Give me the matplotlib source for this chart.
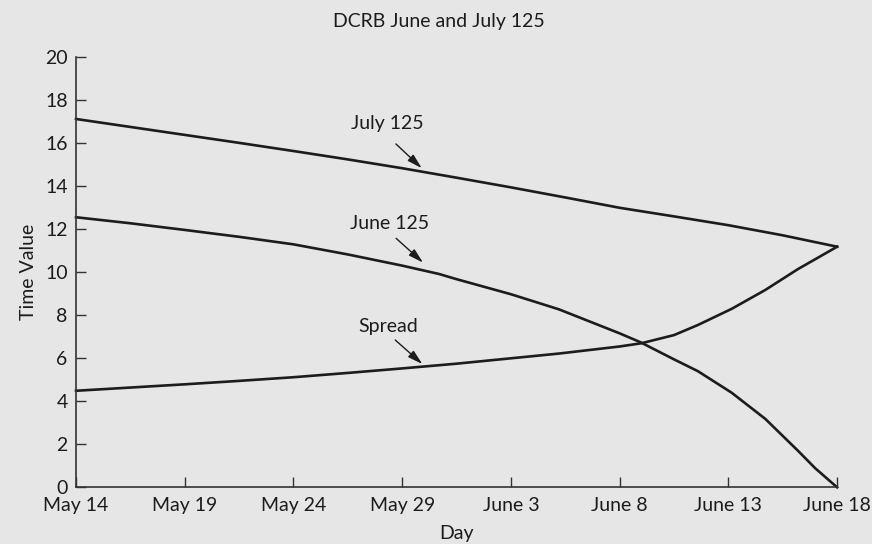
import matplotlib
matplotlib.use("Agg")
import matplotlib.pyplot as plt

# values (day 0 = May 14)
july_days = [0, 2.5, 5, 7.5, 10, 12.5, 15, 17.5, 20, 22.5, 25, 27.5, 30, 32.5, 35]
july_125 = [17.13, 16.76, 16.39, 16.02, 15.64, 15.25, 14.84, 14.40, 13.95, 13.48,
            13.00, 12.60, 12.19, 11.72, 11.19]

june_days = [0, 2.5, 5, 7.5, 10, 12.5, 15, 16.7, 17.5, 20, 22.2, 25, 25.95, 27.5,
             28.6, 30.15, 31.7, 33.2, 34.0, 35]
june_125 = [12.56, 12.28, 11.97, 11.65, 11.30, 10.83, 10.31, 9.92, 9.68, 8.98, 8.28,
            7.16, 6.75, 5.95, 5.40, 4.40, 3.18, 1.70, 0.88, 0.0]

spread_days = [0, 2.5, 5, 7.5, 10, 12.5, 15, 17.5, 20, 22.2, 25, 26, 27.5, 28.6,
               30.15, 31.7, 33.2, 35]
spread = [4.49, 4.64, 4.79, 4.95, 5.12, 5.32, 5.53, 5.75, 6.00, 6.22, 6.55, 6.70,
          7.08, 7.55, 8.30, 9.18, 10.15, 11.19]

tick_days = [0, 5, 10, 15, 20, 25, 30, 35]
tick_labels = ["May 14", "May 19", "May 24", "May 29", "June 3", "June 8", "June 13", "June 18"]

# label text pos, arrow start, arrow end (data coords)
notes = [
    ("July 125", (14.3, 16.94), (14.71, 15.97), (15.9, 14.84)),
    ("June 125", (14.4, 12.25), (14.72, 11.58), (15.96, 10.45)),
    ("Spread", (14.37, 7.47), (14.68, 6.85), (15.93, 5.73)),
]

bg = "#e6e6e6"
ink = "#1c1c1c"
fs = 14
plt.rcParams["font.family"] = ["Lato", "DejaVu Sans"]

fig = plt.figure(figsize=(8.72, 5.44), dpi=100, facecolor=bg)
ax = fig.add_axes([0.0872, 0.1042, 0.8728, 0.7905], facecolor=bg)

for d, v in [(july_days, july_125), (june_days, june_125), (spread_days, spread)]:
    ax.plot(d, v, color=ink, lw=1.9, clip_on=False, solid_joinstyle="round")

for text, tpos, start, end in notes:
    ax.text(tpos[0], tpos[1], text, ha="center", va="center", fontsize=fs, color=ink)
    ax.annotate("", xy=end, xytext=start,
                arrowprops=dict(arrowstyle="-|>,head_length=0.9,head_width=0.25",
                                color=ink, lw=1.0, shrinkA=0, shrinkB=0))

ax.set_xlim(0, 35)
ax.set_ylim(0, 20)
ax.set_xticks(tick_days)
ax.set_xticklabels(tick_labels)
ax.set_yticks(range(0, 21, 2))
ax.tick_params(direction="in", length=7.5, width=1.0, color="#333333",
               labelsize=fs, labelcolor=ink)
ax.tick_params(axis="y", pad=6)
ax.tick_params(axis="x", pad=7)
for side in ["top", "right"]:
    ax.spines[side].set_visible(False)
for side in ["left", "bottom"]:
    ax.spines[side].set_color("#333333")
    ax.spines[side].set_linewidth(1.2)

ax.set_xlabel("Day", fontsize=fs, color=ink, labelpad=8)
ax.set_ylabel("Time Value", fontsize=fs, color=ink, labelpad=6)
fig.text(439 / 872, 1 - 22 / 544, "DCRB June and July 125", ha="center", va="center",
         fontsize=fs, color=ink)

fig.savefig("out.png", dpi=100, facecolor=bg)
